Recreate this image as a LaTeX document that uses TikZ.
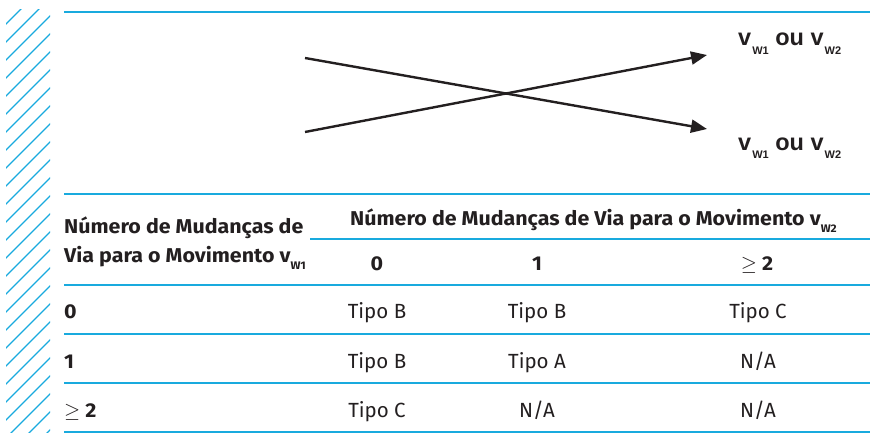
\documentclass[tikz,border=0pt]{standalone}
\usepackage{fontspec}
\setmainfont{Fira Sans}[BoldFeatures={FakeStretch=1.07}]
\newfontfamily\helv{Liberation Sans}
\usetikzlibrary{arrows.meta}
\definecolor{lineblue}{RGB}{25,170,222}
\definecolor{inkgray}{RGB}{35,31,32}
\newcommand{\toplowsub}[1]{\hspace{1pt}\raisebox{-9pt}{\fontsize{11}{12}\selectfont #1}}
\newcommand{\tablowsub}[1]{\raisebox{-7pt}{\fontsize{11}{12}\selectfont #1}}
\tikzset{
  hatchline/.style={draw=lineblue, line width=1.3pt},
  rule/.style={draw=lineblue, line width=1.8pt},
  rulethick/.style={draw=lineblue, line width=2.4pt},
  arr/.style={draw=inkgray, line width=2.4pt, -{Triangle[length=16pt,width=13pt]}},
  toplab/.style={inner sep=0pt, anchor=base west, text=inkgray, font=\helv\bfseries\fontsize{23.5}{26}\selectfont},
  hd/.style={inner sep=0pt, text=inkgray, font=\bfseries\fontsize{20}{22}\selectfont},
  cell/.style={inner sep=0pt, anchor=base, text=inkgray, font=\fontsize{20.5}{24}\selectfont},
}
\begin{document}
\begin{tikzpicture}[x=1pt,y=-1pt]
\useasboundingbox (0,0) rectangle (870,433);
% hatched strip
\begin{scope}
\clip (6,10) rectangle (50,433);
\foreach \k in {12,30,...,520} \draw[hatchline] (0,\k) -- (60,\k-60);
\end{scope}
% rules
\draw[rule] (64,12) -- (870,12);
\draw[rule] (64,194) -- (870,194);
\draw[rule] (310,239) -- (870,239);
\draw[rule] (64,285) -- (870,285);
\draw[rule] (64,334) -- (870,334);
\draw[rule] (64,383) -- (870,383);
\draw[rulethick] (64,432) -- (870,432);
% arrows
\coordinate (a1) at (305,58);
\coordinate (a2) at (707,129);
\coordinate (b1) at (305,132);
\coordinate (b2) at (707,55);
\draw[arr] (a1) -- (a2);
\draw[arr] (b1) -- (b2);
\node[toplab] (l1) at (738,46) {v\toplowsub{W1} ou v\toplowsub{W2}};
\node[toplab] (l2) at (738,150) {v\toplowsub{W1} ou v\toplowsub{W2}};
% table headers
\node[hd, anchor=base west] (rh1) at (64,233) {Número de Mudanças de};
\node[hd, anchor=base west] (rh2) at (64,262) {Via para o Movimento v\tablowsub{W1}};
\node[hd, anchor=base west] (ch) at (350,225) {Número de Mudanças de Via para o Movimento v\tablowsub{W2}};
\node[hd, anchor=base] (c0) at (377,270) {0};
\node[hd, anchor=base] (c1) at (537,270) {1};
\node[hd, anchor=base] (c2) at (757,270) {{\mdseries$\geq$} 2};
% row labels
\node[hd, anchor=base west] (r0) at (64,318) {0};
\node[hd, anchor=base west] (r1) at (64,368) {1};
\node[hd, anchor=base west] (r2) at (64,417) {{\mdseries$\geq$} 2};
% cells
\node[cell] (t00) at (377,318) {Tipo B};
\node[cell] (t01) at (537,318) {Tipo B};
\node[cell] (t02) at (758,318) {Tipo C};
\node[cell] (t10) at (377,368) {Tipo B};
\node[cell] (t11) at (537,368) {Tipo A};
\node[cell] (t12) at (758,368) {N/A};
\node[cell] (t20) at (377,417) {Tipo C};
\node[cell] (t21) at (537,417) {N/A};
\node[cell] (t22) at (758,417) {N/A};
\end{tikzpicture}
\end{document}
